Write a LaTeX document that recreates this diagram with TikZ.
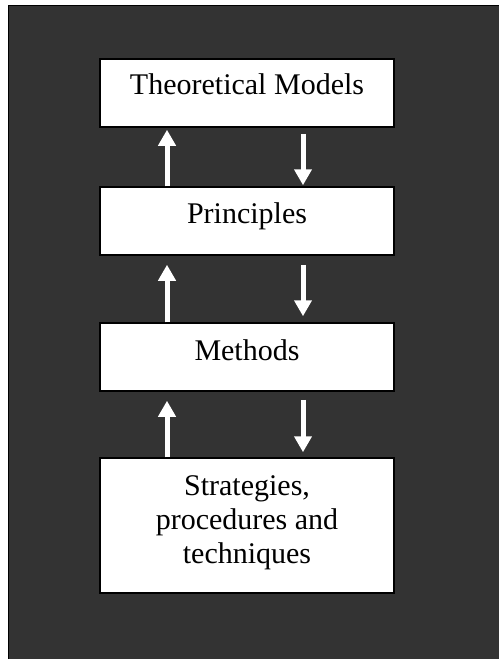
\documentclass[tikz,border=0pt]{standalone}
\usepackage{fontspec}
\setmainfont{Liberation Serif}
\usetikzlibrary{arrows.meta}
\definecolor{bgdark}{RGB}{51,51,51}
\tikzset{
  boxst/.style={draw=black, line width=1.5bp, fill=white, minimum width=294bp, inner sep=0pt},
  lbl/.style={font=\fontsize{30bp}{34bp}\selectfont, anchor=base, inner sep=0pt, text=black},
  arr/.style={draw=white, line width=5bp, -{Triangle[width=17bp,length=16bp]}}
}
\begin{document}
\begin{tikzpicture}[x=1bp,y=-1bp]
\useasboundingbox (0,0) rectangle (499,659);
\draw[fill=bgdark, draw=black, line width=1.2bp] (8.5,5.5) rectangle (520,680);
\node[boxst, minimum height=68bp] (tm) at (247,93) {};
\node[boxst, minimum height=68bp] (pr) at (247,221) {};
\node[boxst, minimum height=68bp] (me) at (247,357) {};
\node[boxst, minimum height=135bp] (st) at (247,525.5) {};
\node[lbl] (tmt) at (247,95) {Theoretical Models};
\node[lbl] (prt) at (247,223) {Principles};
\node[lbl] (met) at (247,360) {Methods};
\node[lbl] (st1) at (247,495) {Strategies,};
\node[lbl] (st2) at (247,529) {procedures and};
\node[lbl] (st3) at (247,563) {techniques};
% arrows
\draw[arr] ([xshift=-80bp]pr.north) -- ([xshift=-80bp,yshift=-2bp]tm.south);
\draw[arr] ([xshift=56bp,yshift=-6bp]tm.south) -- ([xshift=56bp,yshift=1bp]pr.north);
\draw[arr] ([xshift=-80bp]me.north) -- ([xshift=-80bp,yshift=-9bp]pr.south);
\draw[arr] ([xshift=56bp,yshift=-9bp]pr.south) -- ([xshift=56bp,yshift=6bp]me.north);
\draw[arr] ([xshift=-80bp]st.north) -- ([xshift=-80bp,yshift=-9bp]me.south);
\draw[arr] ([xshift=56bp,yshift=-8bp]me.south) -- ([xshift=56bp,yshift=5bp]st.north);
\end{tikzpicture}
\end{document}
